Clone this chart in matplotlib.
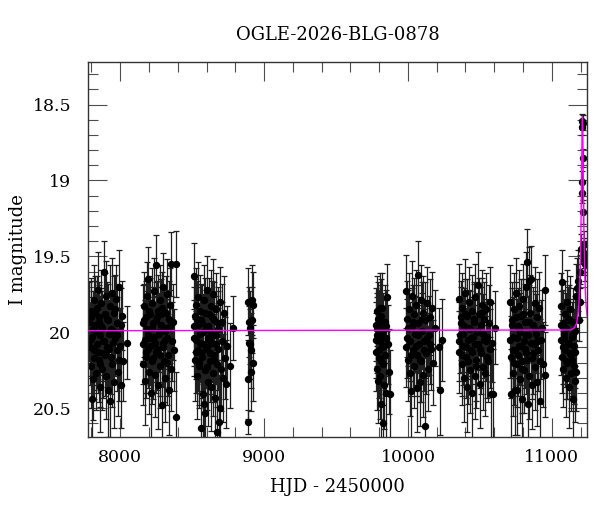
import matplotlib
matplotlib.use("Agg")
import matplotlib.pyplot as plt
from matplotlib.ticker import MultipleLocator

plt.rcParams['font.family'] = ['DejaVu Serif']

# OGLE photometry, one block per season (HJD - 2450000, I mag, error)
s1_hjd = [7786, 7790, 7795, 7799, 7803, 7808, 7812, 7817, 7821, 7826,
          7830, 7835, 7839, 7844, 7849, 7853, 7858, 7862, 7867, 7871,
          7876, 7880, 7885, 7889, 7894, 7899, 7903, 7908, 7913, 7917,
          7922, 7927, 7931, 7936, 7941, 7946, 7951, 7955, 7960, 7965,
          7970, 7975, 7980, 7985, 7990, 7996, 8002, 8010, 8020, 8050,
          7788, 7797, 7806, 7815, 7824, 7833, 7842, 7851, 7860, 7869,
          7878, 7892, 7906, 7920, 7934, 7948, 7962, 7978, 7993, 8006]
s1_mag = [19.93, 20.05, 20.22, 19.86, 20.44, 19.98, 20.31, 19.79, 20.12, 19.95,
          20.27, 19.84, 20.08, 19.72, 20.18, 19.90, 20.36, 20.02, 19.81, 20.24,
          19.97, 20.14, 19.60, 20.06, 19.88, 20.29, 19.76, 20.10, 20.38, 19.92,
          20.01, 19.83, 20.45, 20.16, 19.74, 20.21, 19.99, 19.87, 20.33, 20.04,
          19.78, 20.12, 19.94, 20.26, 19.70, 20.09, 20.35, 19.89, 20.19, 20.07,
          20.10, 19.90, 20.03, 20.17, 19.87, 20.00, 20.13, 19.93, 20.21, 19.96,
          20.06, 20.15, 19.91, 20.11, 19.98, 20.07, 19.85, 20.02, 20.18, 19.95]
s1_err = [0.26, 0.24, 0.28, 0.22, 0.30, 0.25, 0.27, 0.23, 0.26, 0.29,
          0.24, 0.21, 0.27, 0.25, 0.28, 0.23, 0.30, 0.26, 0.22, 0.27,
          0.24, 0.29, 0.20, 0.25, 0.27, 0.28, 0.23, 0.26, 0.31, 0.24,
          0.22, 0.27, 0.29, 0.25, 0.23, 0.28, 0.26, 0.24, 0.30, 0.25,
          0.22, 0.27, 0.26, 0.29, 0.24, 0.25, 0.28, 0.23, 0.26, 0.24,
          0.25, 0.24, 0.26, 0.27, 0.24, 0.25, 0.27, 0.24, 0.28, 0.25,
          0.26, 0.27, 0.24, 0.26, 0.25, 0.26, 0.23, 0.25, 0.27, 0.24]

s2_hjd = [8155, 8160, 8164, 8169, 8173, 8178, 8182, 8187, 8191, 8196,
          8200, 8205, 8209, 8214, 8218, 8223, 8227, 8232, 8236, 8241,
          8246, 8250, 8255, 8259, 8264, 8268, 8273, 8277, 8282, 8287,
          8291, 8296, 8300, 8305, 8309, 8314, 8318, 8323, 8328, 8332,
          8337, 8342, 8346, 8351, 8356, 8361, 8366, 8372, 8385, 8391,
          8158, 8167, 8176, 8185, 8194, 8203, 8212, 8221, 8230, 8239,
          8248, 8257, 8266, 8275, 8284, 8294, 8303, 8312, 8326, 8344]
s2_mag = [19.94, 20.21, 19.83, 20.05, 20.32, 19.90, 20.13, 19.76, 20.02, 19.65,
          20.26, 19.88, 20.09, 20.40, 19.97, 19.81, 20.17, 20.03, 19.73, 20.28,
          19.92, 19.56, 20.11, 19.86, 20.35, 20.00, 19.79, 20.22, 19.95, 20.48,
          19.84, 20.07, 19.70, 20.19, 19.99, 20.30, 19.87, 20.04, 19.75, 20.15,
          20.38, 19.91, 19.82, 19.55, 20.24, 20.06, 19.93, 20.12, 19.55, 20.56,
          20.08, 19.92, 20.16, 19.98, 20.11, 19.86, 20.04, 20.19, 19.94, 20.07,
          20.13, 19.90, 20.01, 20.15, 19.88, 20.10, 19.97, 20.05, 20.20, 19.96]
s2_err = [0.25, 0.27, 0.23, 0.26, 0.29, 0.24, 0.27, 0.22, 0.25, 0.21,
          0.28, 0.24, 0.26, 0.30, 0.25, 0.23, 0.27, 0.26, 0.22, 0.28,
          0.25, 0.20, 0.27, 0.24, 0.29, 0.26, 0.23, 0.28, 0.25, 0.31,
          0.24, 0.26, 0.22, 0.27, 0.25, 0.29, 0.24, 0.26, 0.23, 0.27,
          0.30, 0.25, 0.24, 0.21, 0.28, 0.26, 0.25, 0.27, 0.22, 0.30,
          0.26, 0.24, 0.27, 0.25, 0.26, 0.23, 0.25, 0.28, 0.24, 0.26,
          0.27, 0.24, 0.25, 0.27, 0.23, 0.26, 0.25, 0.26, 0.28, 0.24]

s3_hjd = [8512, 8516, 8520, 8524, 8528, 8532, 8536, 8540, 8544, 8548,
          8552, 8556, 8560, 8564, 8568, 8572, 8576, 8580, 8584, 8588,
          8592, 8596, 8600, 8605, 8609, 8613, 8617, 8621, 8625, 8630,
          8634, 8638, 8642, 8646, 8650, 8655, 8659, 8663, 8667, 8671,
          8675, 8679, 8683, 8687, 8691, 8695, 8699, 8704, 8709, 8714,
          8720, 8727, 8735, 8745, 8760,
          8514, 8522, 8530, 8538, 8546, 8554, 8562, 8570, 8578, 8586,
          8594, 8603, 8611, 8619, 8627, 8636, 8644, 8653, 8665, 8681]
s3_mag = [19.96, 19.63, 20.18, 19.82, 20.05, 20.29, 19.91, 20.12, 19.77, 20.22,
          20.01, 19.86, 20.63, 20.14, 19.94, 20.41, 20.08, 20.47, 19.79, 20.25,
          20.53, 19.97, 20.10, 19.72, 20.33, 20.04, 19.88, 20.19, 19.99, 20.36,
          19.83, 20.07, 20.27, 19.75, 20.15, 19.92, 20.43, 20.02, 19.85, 20.21,
          20.66, 19.98, 20.11, 20.59, 19.80, 20.50, 20.24, 19.93, 20.06, 20.30,
          19.87, 20.17, 20.34, 20.09, 20.22,
          20.04, 19.89, 20.13, 19.95, 20.20, 20.07, 19.92, 20.16, 20.00, 19.87,
          20.11, 20.23, 19.96, 20.05, 20.14, 19.90, 20.02, 20.18, 20.08, 19.94]
s3_err = [0.26, 0.22, 0.27, 0.24, 0.26, 0.28, 0.25, 0.27, 0.23, 0.28,
          0.25, 0.24, 0.31, 0.27, 0.25, 0.30, 0.26, 0.30, 0.23, 0.28,
          0.31, 0.25, 0.26, 0.22, 0.29, 0.26, 0.24, 0.27, 0.25, 0.29,
          0.24, 0.26, 0.28, 0.23, 0.27, 0.25, 0.30, 0.26, 0.24, 0.28,
          0.32, 0.25, 0.27, 0.31, 0.23, 0.30, 0.28, 0.25, 0.26, 0.29,
          0.24, 0.27, 0.29, 0.26, 0.28,
          0.25, 0.24, 0.27, 0.25, 0.28, 0.26, 0.24, 0.27, 0.25, 0.23,
          0.26, 0.28, 0.25, 0.26, 0.27, 0.24, 0.25, 0.28, 0.26, 0.24]

s3b_hjd = [8784, 8890, 8918, 8925, 8895, 8916, 8905, 8893, 8903, 8912, 8921, 8909, 8888, 8886]
s3b_mag = [19.97, 19.80, 19.79, 19.82, 19.93, 19.92, 19.97, 20.07, 20.08, 20.12, 20.20, 20.26, 20.31, 20.59]
s3b_err = [0.21, 0.22, 0.23, 0.22, 0.23, 0.22, 0.24, 0.24, 0.23, 0.25, 0.25, 0.26, 0.26, 0.08]

s4_hjd = [9776, 9779, 9782, 9785, 9788, 9791, 9794, 9797, 9800, 9803,
          9806, 9809, 9812, 9815, 9818, 9821, 9824, 9827, 9830, 9834,
          9838, 9842, 9846, 9850, 9855, 9860, 9866, 9874,
          9780, 9787, 9796, 9805, 9814, 9823, 9836, 9848]
s4_mag = [19.95, 20.13, 19.86, 20.24, 20.02, 19.91, 20.32, 19.97, 20.17, 19.84,
          20.29, 20.06, 19.89, 20.47, 20.10, 19.84, 20.21, 20.60, 19.99, 20.35,
          19.93, 20.15, 20.04, 20.40, 19.77, 20.08, 20.26, 20.41,
          20.05, 19.98, 20.12, 19.93, 20.19, 20.03, 20.09, 19.96]
s4_err = [0.24, 0.26, 0.23, 0.27, 0.25, 0.24, 0.28, 0.25, 0.26, 0.23,
          0.28, 0.25, 0.24, 0.30, 0.26, 0.23, 0.27, 0.31, 0.25, 0.29,
          0.24, 0.26, 0.25, 0.30, 0.22, 0.26, 0.28, 0.29,
          0.25, 0.24, 0.26, 0.24, 0.27, 0.25, 0.26, 0.24]

s5_hjd = [9984, 9990, 9996, 10002, 10008, 10014, 10020, 10026, 10030, 10035,
          10040, 10045, 10050, 10055, 10060, 10065, 10068, 10073, 10078, 10083,
          10088, 10093, 10098, 10103, 10108, 10113, 10117, 10122, 10128, 10134,
          10140, 10147, 10154, 10161, 10168, 10176, 10190, 10214, 10221, 10238,
          9987, 9999, 10011, 10023, 10038, 10053, 10070, 10086, 10100, 10115,
          10131, 10150]
s5_mag = [19.73, 20.04, 19.91, 20.18, 19.85, 20.27, 20.39, 19.96, 19.76, 20.12,
          19.88, 20.22, 20.01, 19.82, 20.15, 20.37, 19.62, 19.94, 20.08, 20.33,
          19.79, 20.19, 19.99, 20.28, 19.87, 20.06, 20.62, 19.92, 20.14, 19.81,
          20.24, 20.02, 19.90, 20.11, 19.84, 20.20, 19.97, 20.10, 20.38, 20.05,
          20.10, 19.97, 20.06, 20.15, 19.93, 20.09, 20.02, 20.18, 19.91, 20.12,
          20.04, 20.08]
s5_err = [0.24, 0.26, 0.25, 0.27, 0.24, 0.28, 0.30, 0.25, 0.23, 0.26,
          0.24, 0.28, 0.25, 0.23, 0.27, 0.29, 0.22, 0.25, 0.26, 0.29,
          0.23, 0.27, 0.25, 0.28, 0.24, 0.26, 0.32, 0.25, 0.27, 0.24,
          0.28, 0.26, 0.25, 0.27, 0.24, 0.28, 0.25, 0.26, 0.30, 0.27,
          0.26, 0.25, 0.26, 0.27, 0.24, 0.26, 0.25, 0.28, 0.24, 0.27,
          0.25, 0.26]

s6_hjd = [10353, 10358, 10363, 10368, 10373, 10378, 10383, 10388, 10393, 10398,
          10403, 10408, 10413, 10418, 10423, 10428, 10433, 10438, 10443, 10448,
          10453, 10458, 10463, 10468, 10473, 10478, 10485, 10490, 10495, 10500,
          10505, 10510, 10515, 10520, 10525, 10530, 10535, 10540, 10545, 10550,
          10556, 10562, 10568, 10573, 10578, 10583, 10590, 10608,
          10356, 10366, 10376, 10386, 10396, 10406, 10416, 10426, 10436, 10446,
          10456, 10466, 10476, 10488, 10498, 10512, 10528, 10548]
s6_mag = [20.13, 19.78, 20.02, 19.90, 20.21, 19.84, 20.09, 20.30, 19.96, 19.74,
          20.16, 20.36, 19.89, 20.05, 19.80, 20.25, 19.98, 20.12, 19.86, 20.40,
          20.03, 19.93, 20.29, 19.77, 20.18, 20.00, 19.69, 20.08, 19.88, 20.34,
          19.95, 20.14, 19.82, 20.23, 20.01, 19.91, 20.27, 20.06, 19.85, 20.03,
          20.19, 19.94, 20.11, 19.80, 20.41, 20.07, 20.41, 19.97,
          20.06, 19.94, 20.15, 20.01, 19.88, 20.10, 20.19, 19.97, 20.04, 20.13,
          19.91, 20.08, 20.22, 19.99, 20.11, 19.87, 20.05, 20.16]
s6_err = [0.27, 0.23, 0.25, 0.24, 0.27, 0.23, 0.26, 0.29, 0.25, 0.22,
          0.27, 0.30, 0.24, 0.26, 0.23, 0.28, 0.25, 0.27, 0.24, 0.31,
          0.26, 0.25, 0.28, 0.22, 0.27, 0.25, 0.22, 0.26, 0.24, 0.29,
          0.25, 0.27, 0.23, 0.28, 0.26, 0.24, 0.28, 0.26, 0.24, 0.25,
          0.27, 0.25, 0.26, 0.23, 0.30, 0.26, 0.30, 0.24,
          0.26, 0.24, 0.27, 0.25, 0.23, 0.26, 0.28, 0.25, 0.25, 0.27,
          0.24, 0.26, 0.28, 0.25, 0.26, 0.23, 0.25, 0.27]

s7_hjd = [10710, 10714, 10719, 10723, 10728, 10732, 10737, 10741, 10746, 10750,
          10755, 10760, 10764, 10769, 10773, 10778, 10782, 10787, 10791, 10796,
          10800, 10805, 10810, 10814, 10819, 10823, 10828, 10832, 10836, 10840,
          10845, 10850, 10855, 10860, 10865, 10870, 10875, 10880, 10885, 10890,
          10895, 10900, 10906, 10912, 10918, 10924, 10930, 10940, 10950, 10956,
          10712, 10721, 10730, 10739, 10748, 10757, 10766, 10775, 10784, 10793,
          10802, 10812, 10821, 10830, 10843, 10853, 10868, 10883, 10898, 10915]
s7_mag = [19.80, 20.16, 20.41, 19.92, 20.27, 20.03, 19.85, 20.38, 20.12, 19.74,
          20.21, 20.38, 19.96, 20.09, 19.83, 20.31, 20.00, 19.89, 20.19, 20.44,
          19.78, 20.06, 20.25, 19.93, 20.14, 19.70, 19.54, 20.47, 20.02, 19.66,
          20.29, 19.87, 19.65, 20.17, 20.35, 19.95, 20.08, 19.81, 20.23, 20.01,
          19.90, 20.33, 20.12, 19.84, 20.45, 20.05, 19.97, 20.21, 19.72, 20.28,
          20.05, 19.95, 20.12, 20.20, 19.90, 20.04, 20.15, 19.97, 20.09, 20.24,
          19.88, 20.11, 20.02, 20.18, 19.93, 20.07, 20.14, 19.98, 20.06, 20.19]
s7_err = [0.24, 0.27, 0.30, 0.25, 0.28, 0.26, 0.24, 0.30, 0.27, 0.23,
          0.28, 0.30, 0.25, 0.26, 0.24, 0.29, 0.26, 0.24, 0.27, 0.31,
          0.23, 0.26, 0.28, 0.25, 0.27, 0.23, 0.22, 0.31, 0.26, 0.22,
          0.28, 0.25, 0.22, 0.27, 0.29, 0.25, 0.26, 0.24, 0.28, 0.26,
          0.25, 0.29, 0.27, 0.24, 0.31, 0.26, 0.25, 0.28, 0.23, 0.28,
          0.25, 0.24, 0.27, 0.28, 0.23, 0.26, 0.27, 0.25, 0.26, 0.29,
          0.23, 0.26, 0.25, 0.28, 0.24, 0.26, 0.27, 0.25, 0.26, 0.28]

s8_hjd = [11062, 11066, 11070, 11073, 11077, 11081, 11085, 11089, 11093, 11097,
          11101, 11105, 11109, 11113, 11117, 11121, 11125, 11129, 11133, 11137,
          11141, 11145, 11149, 11152, 11156, 11160, 11164, 11170, 11176, 11181,
          11064, 11075, 11087, 11099, 11111, 11123, 11135, 11147, 11158, 11167]
s8_mag = [19.83, 20.05, 19.67, 20.16, 19.94, 20.24, 20.01, 19.88, 20.12, 20.30,
          19.97, 19.80, 20.20, 20.07, 20.36, 19.91, 20.14, 19.85, 20.27, 20.03,
          20.18, 19.93, 20.44, 20.09, 20.22, 20.32, 19.99, 19.76, 19.71, 19.66,
          19.95, 20.10, 20.04, 20.19, 19.92, 20.08, 20.15, 20.01, 20.13, 20.26]
s8_err = [0.22, 0.23, 0.21, 0.24, 0.22, 0.25, 0.23, 0.22, 0.24, 0.26,
          0.23, 0.21, 0.24, 0.23, 0.27, 0.22, 0.24, 0.22, 0.25, 0.23,
          0.24, 0.22, 0.28, 0.24, 0.25, 0.27, 0.23, 0.21, 0.20, 0.20,
          0.22, 0.24, 0.23, 0.25, 0.22, 0.24, 0.25, 0.23, 0.24, 0.26]

ev_hjd = [11190, 11195, 11199, 11201, 11207, 11208, 11212, 11213, 11214,
          11217, 11219, 11223, 11224, 11226, 11227, 11229]
ev_mag = [19.92, 19.80, 19.60, 19.45, 19.01, 19.08, 18.65, 18.61, 18.62,
          18.85, 19.21, 19.42, 19.48, 19.52, 19.50, 19.55]
ev_err = [0.14, 0.12, 0.11, 0.10, 0.07, 0.07, 0.05, 0.05, 0.05,
          0.06, 0.08, 0.09, 0.10, 0.10, 0.10, 0.11]

# microlensing model
model_hjd = [7776, 11133, 11158, 11173, 11182, 11188, 11193, 11197, 11200, 11203,
             11205, 11207, 11209, 11211, 11213, 11215, 11217, 11219, 11221, 11223,
             11226, 11229, 11233, 11238, 11244, 11253]
model_mag = [19.99, 19.985, 19.97, 19.94, 19.88, 19.82, 19.72, 19.60, 19.47, 19.30,
             19.15, 18.99, 18.80, 18.64, 18.58, 18.64, 18.80, 18.99, 19.15, 19.30,
             19.47, 19.60, 19.72, 19.82, 19.88, 19.94]

hjd = s1_hjd + s2_hjd + s3_hjd + s3b_hjd + s4_hjd + s5_hjd + s6_hjd + s7_hjd + s8_hjd + ev_hjd
mag = s1_mag + s2_mag + s3_mag + s3b_mag + s4_mag + s5_mag + s6_mag + s7_mag + s8_mag + ev_mag
err = s1_err + s2_err + s3_err + s3b_err + s4_err + s5_err + s6_err + s7_err + s8_err + ev_err

fig = plt.figure(figsize=(6, 5.12), dpi=100)
ax = fig.add_axes([0.1467, 0.1465, 0.8317, 0.7324])

ax.errorbar(hjd, mag, yerr=err, fmt='o', color='black', ms=4.3,
            ecolor='0.12', elinewidth=0.9, capsize=2.2, capthick=0.9, zorder=2)
ax.plot(model_hjd, model_mag, color='#ff00ff', lw=1.0, zorder=3)

ax.set_xlim(7776, 11245)
ax.set_ylim(20.69, 18.22)

ax.xaxis.set_major_locator(MultipleLocator(1000))
ax.xaxis.set_minor_locator(MultipleLocator(200))
ax.yaxis.set_minor_locator(MultipleLocator(0.1))
ax.set_yticks([18.5, 19, 19.5, 20, 20.5])
ax.set_yticklabels(['18.5', '19', '19.5', '20', '20.5'])

ax.tick_params(which='both', direction='in', top=True, right=True,
               labelsize=12.5, color='0.3', width=0.8)
ax.tick_params(which='major', length=14)
ax.tick_params(which='minor', length=7)
ax.tick_params(axis='y', which='major', pad=12)
ax.tick_params(axis='x', which='major', pad=9)
for sp in ax.spines.values():
    sp.set_linewidth(1.0)
    sp.set_color('0.2')

ax.set_xlabel('HJD - 2450000', fontsize=13, labelpad=8)
ax.set_ylabel('I magnitude', fontsize=13)
ax.yaxis.set_label_coords(-0.122, 0.5)
ax.set_title('OGLE-2026-BLG-0878', fontsize=13, pad=16)

fig.savefig('out.png', dpi=100)
